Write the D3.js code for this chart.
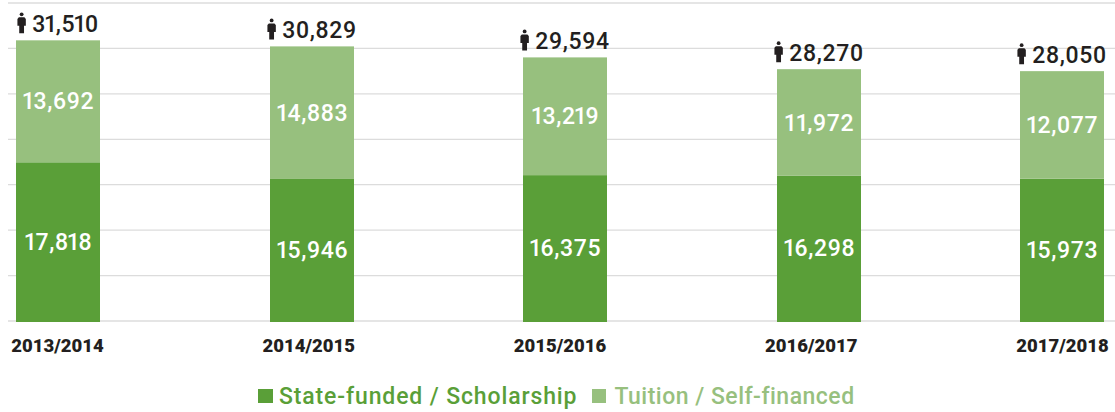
<!DOCTYPE html>
<html><head><meta charset="utf-8">
<script src="https://cdn.jsdelivr.net/npm/d3@7/dist/d3.min.js"></script>
<style>html,body{margin:0;padding:0;background:#fff}svg{display:block}text{font-family:Roboto,sans-serif}</style>
</head><body><svg id="c" width="1115" height="412"></svg>
<script>
const years=["2013/2014","2014/2015","2015/2016","2016/2017","2017/2018"];
const stateFunded=[17818,15946,16375,16298,15973];
const tuition=[13692,14883,13219,11972,12077];
const totals=[31510,30829,29594,28270,28050];
const gridTicks=[0,5100,10200,15300,20400,25500,30600,35700];
const legendLabels=["State-funded / Scholarship","Tuition / Self-financed"];
const DARK="#5a9f38",LIGHT="#97c07e",INK="#231f20";
const svg=d3.select("#c");
const fmt=d3.format(",");
const y=d3.scaleLinear().domain([0,35700]).range([321,3]);
const x=d3.scaleOrdinal(years,[58,312,565,819,1062]);
const xLabel=d3.scalePoint(years,[57.5,1062.5]);
const bw=84;
// The reference face has a narrow "1": tighten the space around each one.
function numText(sel,f){
  sel.each(function(d){
    const t=d3.select(this),s=fmt(f(d));
    let pending=0;
    [...s].forEach((c,i)=>{
      const one=c==="1";
      const dx=pending+(one&&i>0&&pending===0?-2:0);
      t.append("tspan").attr("dx",dx).text(c);
      pending=one?-2:0;
    });
  });
  return sel;
}
svg.append("g").selectAll("line").data(gridTicks).join("line")
 .attr("x1",8).attr("x2",1115).attr("y1",d=>y(d)).attr("y2",d=>y(d))
 .attr("stroke","#dcdcdc").attr("stroke-width",1.3);
const rows=years.map((k,i)=>({k,s:stateFunded[i],t:tuition[i],tot:totals[i]}));
const g=svg.append("g").selectAll("g").data(rows).join("g");
g.append("rect").attr("x",d=>x(d.k)-bw/2).attr("width",bw).attr("y",d=>y(d.s)).attr("height",d=>y(0)-y(d.s)+1).attr("fill",DARK);
g.append("rect").attr("x",d=>x(d.k)-bw/2).attr("width",bw).attr("y",d=>y(d.s+d.t)).attr("height",d=>y(d.s)-y(d.s+d.t)).attr("fill",LIGHT);
const val=(sel,f)=>numText(sel.append("text").attr("x",d=>x(d.k)).attr("text-anchor","middle").attr("fill","#fff")
 .attr("font-size",23).attr("font-weight",500).attr("letter-spacing",0.7),f);
val(g,d=>d.s).attr("y",d=>(y(d.s)+y(0))/2+8);
val(g,d=>d.t).attr("y",d=>(y(d.s+d.t)+y(d.s))/2+8);
const totalText=numText(g.append("text").attr("y",d=>y(d.tot)-8).attr("fill",INK)
 .attr("font-size",23).attr("font-weight",500).attr("letter-spacing",0.7),d=>d.tot);
const widths=totalText.nodes().map(n=>n.getBBox().width);
totalText.attr("x",(d,i)=>x(d.k)-(widths[i]+15)/2+15);
const person=g.append("g").attr("fill",INK).attr("transform",(d,i)=>{
  const left=x(d.k)-(widths[i]+15)/2;
  return `translate(${left+4.5},${y(d.tot)-28})`;
});
person.append("circle").attr("cx",0).attr("cy",2).attr("r",1.9);
person.append("path").attr("d","M-2.8 5H2.8L4.2 6.6V13.5H2.4V21H-2.4V13.5H-4.2V6.6Z");
g.append("text").attr("x",d=>xLabel(d.k)).attr("y",352).attr("text-anchor","middle").attr("fill",INK)
 .attr("font-size",18.5).attr("font-weight",900).text(d=>d.k);
const leg=svg.append("g");
leg.append("rect").attr("x",258).attr("y",389).attr("width",15).attr("height",14).attr("fill",DARK);
leg.append("text").attr("x",279).attr("y",404).attr("fill",DARK).attr("font-size",23).attr("font-weight",500).attr("letter-spacing",0.87).text(legendLabels[0]);
leg.append("rect").attr("x",592).attr("y",389).attr("width",14).attr("height",14).attr("fill",LIGHT);
leg.append("text").attr("x",614.5).attr("y",404).attr("fill",LIGHT).attr("font-size",23).attr("font-weight",500).attr("letter-spacing",0.49).text(legendLabels[1]);
</script></body></html>
